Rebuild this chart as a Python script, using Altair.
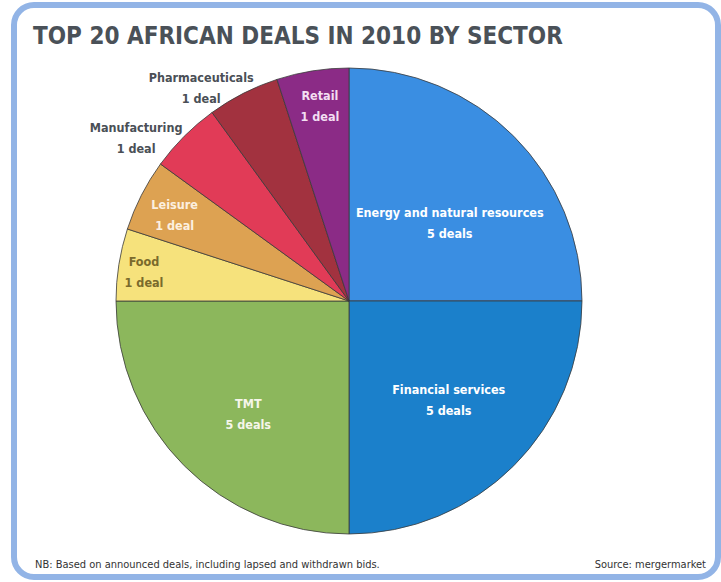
import altair as alt
import pandas as pd

# ---- data ----
sectors = ["Energy and natural resources", "Financial services", "TMT", "Food",
           "Leisure", "Manufacturing", "Pharmaceuticals", "Retail"]
deals = [5, 5, 5, 1, 1, 1, 1, 1]
title_text = "TOP 20 AFRICAN DEALS IN 2010 BY SECTOR"
note_text = "NB: Based on announced deals, including lapsed and withdrawn bids."
source_text = "Source: mergermarket"

# ---- styles ----
colors = ["#3a8ee2", "#1b80cb", "#8cb75c", "#f6e27c", "#dda252", "#e13b57", "#a2323f", "#8b2b86"]
label_colors = ["#ffffff", "#ffffff", "#f6f6ea", "#7a6a2c", "#fcf0e0", "#4a4f56", "#4a4f56", "#f3dff2"]
label_radius = [127, 141, 152, 207, 194, 268, 259, 197]
label_angle_adj = [7.5, 0, -3.5, -1, -1, -7.6, -7.8, 0.5]
FONT = "DejaVu Sans Condensed, Liberation Sans Narrow, sans-serif"
CX, CY, R = 349, 301, 233
LINE_H = 21
W, H = 721, 582

df = pd.DataFrame({
    "sector": sectors,
    "deals": deals,
    "idx": list(range(len(sectors))),
    "lcolor": label_colors,
    "lr": label_radius,
    "ladj": label_angle_adj,
})

base = alt.Chart(df)

pie = base.mark_arc(radius=R, stroke="#3a3a3a", strokeWidth=0.8).encode(
    theta=alt.Theta("deals:Q", stack=True),
    order=alt.Order("idx:Q"),
    color=alt.Color("sector:N", scale=alt.Scale(domain=sectors, range=colors), legend=None),
    x=alt.value(CX),
    y=alt.value(CY),
)

labels = base.transform_stack(
    stack="deals", groupby=[], as_=["s0", "s1"], sort=[alt.SortField("idx", order="ascending")]
).transform_joinaggregate(
    total="sum(deals)"
).transform_calculate(
    ang="(datum.s0 + datum.s1) / 2 / datum.total * 2 * PI + datum.ladj * PI / 180",
    lx=f"{CX} + datum.lr * sin(datum.ang)",
    ly=f"{CY} - datum.lr * cos(datum.ang) - {LINE_H / 2}",
    label="datum.sector + '\\n' + datum.deals + (datum.deals == 1 ? ' deal' : ' deals')",
).mark_text(
    font=FONT, fontSize=12.5, fontWeight="bold", lineBreak="\n", lineHeight=LINE_H,
    align="center", baseline="middle",
).encode(
    x=alt.X("lx:Q", scale=None, axis=None),
    y=alt.Y("ly:Q", scale=None, axis=None),
    text="label:N",
    color=alt.Color("lcolor:N", scale=None, legend=None),
)

one = pd.DataFrame({"t": [title_text], "n": [note_text], "s": [source_text]})
obase = alt.Chart(one)

frame = obase.mark_rect(
    fillOpacity=0, stroke="#92b4e6", strokeWidth=6, cornerRadius=20
).encode(x=alt.value(14), x2=alt.value(718), y=alt.value(5), y2=alt.value(577))

title = obase.mark_text(
    font=FONT, fontSize=24, fontWeight="bold", color="#4a5158", align="left", baseline="alphabetic"
).encode(text="t:N", x=alt.value(33), y=alt.value(44))

note = obase.mark_text(
    font=FONT, fontSize=11, color="#333333", align="left", baseline="middle"
).encode(text="n:N", x=alt.value(35), y=alt.value(565))

source = obase.mark_text(
    font=FONT, fontSize=11, color="#333333", align="right", baseline="middle"
).encode(text="s:N", x=alt.value(706), y=alt.value(565))

chart = alt.layer(frame, pie, labels, title, note, source).properties(
    width=W, height=H, padding=0, autosize=alt.AutoSizeParams(type="none"),
    background="white",
).configure_view(strokeWidth=0)

chart.save("out.html", embed_options={"renderer": "svg", "actions": False})
